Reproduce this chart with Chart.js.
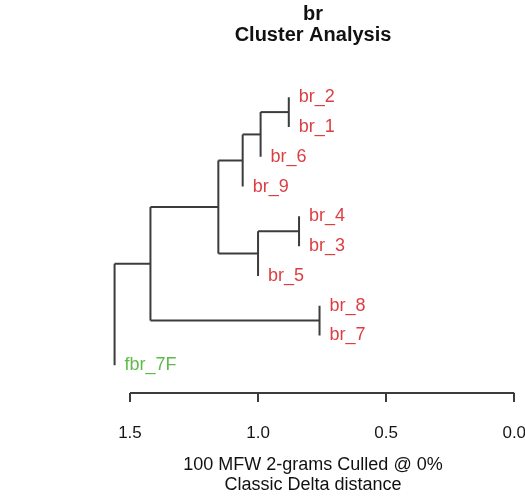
<!DOCTYPE html>
<html>
<head>
<meta charset="utf-8">
<script src="https://cdn.jsdelivr.net/npm/chart.js@4"></script>
<style>
  body { margin: 0; background: #fff; }
  #wrap { width: 525px; height: 503px; }
</style>
</head>
<body>
<div id="wrap"><canvas id="clusterChart"></canvas></div>
<script>
// leaves in display order, top to bottom
const leaves = ['br_2', 'br_1', 'br_6', 'br_9', 'br_4', 'br_3', 'br_5', 'br_8', 'br_7', 'fbr_7F'];
const leafGroups = ['br', 'br', 'br', 'br', 'br', 'br', 'br', 'br', 'br', 'fbr'];
// hclust style merges: negative = leaf (1-based), positive = earlier merge
const merges = [[-1, -2], [1, -3], [2, -4], [-5, -6], [4, -7], [3, 5], [-8, -9], [6, 7], [8, -10]];
const mergeHeights = [0.88, 0.99, 1.06, 0.84, 1.00, 1.155, 0.76, 1.42, 1.56];
const xTicks = [0.0, 0.5, 1.0, 1.5];

const groupColors = { br: '#dc3e42', fbr: '#5dbb4c' };
const lineColor = '#3c3c3c';

// build the dendrogram segments from the merges
const leafX = new Array(leaves.length);
const nodeX = [], nodeY = [];
const segments = [];
function childPos(c, h) {
  if (c < 0) {
    const i = -c - 1;
    leafX[i] = h;
    return { x: h, y: i + 1, node: false };
  }
  return { x: nodeX[c - 1], y: nodeY[c - 1], node: true };
}
merges.forEach((m, k) => {
  const h = mergeHeights[k];
  const a = childPos(m[0], h);
  const b = childPos(m[1], h);
  segments.push([{ x: h, y: a.y }, { x: h, y: b.y }]);
  [a, b].forEach(c => {
    if (c.node) segments.push([{ x: c.x, y: c.y }, { x: h, y: c.y }]);
  });
  nodeX.push(h);
  nodeY.push((a.y + b.y) / 2);
});

const datasets = segments.map(s => ({
  data: s,
  showLine: true,
  borderColor: lineColor,
  borderWidth: 2,
  pointRadius: 0,
  fill: false,
  clip: false
}));

const leafLabels = {
  id: 'leafLabels',
  afterDatasetsDraw(chart) {
    const { ctx, scales: { x, y } } = chart;
    ctx.save();
    ctx.font = '18px "Liberation Sans", Arial, sans-serif';
    ctx.textBaseline = 'middle';
    ctx.textAlign = 'left';
    leaves.forEach((name, i) => {
      ctx.fillStyle = groupColors[leafGroups[i]];
      ctx.fillText(name, x.getPixelForValue(leafX[i]) + 10, y.getPixelForValue(i + 1));
    });
    ctx.restore();
  }
};

const axisLine = {
  id: 'axisLine',
  afterDraw(chart) {
    const { ctx, chartArea, scales: { x } } = chart;
    ctx.save();
    ctx.strokeStyle = lineColor;
    ctx.lineWidth = 2;
    ctx.beginPath();
    ctx.moveTo(x.getPixelForValue(Math.max(...xTicks)), chartArea.bottom);
    ctx.lineTo(x.getPixelForValue(Math.min(...xTicks)), chartArea.bottom);
    ctx.stroke();
    ctx.restore();
  }
};

new Chart(document.getElementById('clusterChart'), {
  type: 'scatter',
  data: { datasets: datasets },
  options: {
    responsive: true,
    maintainAspectRatio: false,
    animation: false,
    layout: { padding: { left: 101, right: 0, top: 0, bottom: 0 } },
    plugins: {
      legend: { display: false },
      tooltip: { enabled: false },
      title: {
        display: true,
        text: ['br', 'Cluster Analysis'],
        color: '#111',
        font: { family: '"Liberation Sans", Arial, sans-serif', size: 20, weight: 'bold', lineHeight: 1.05 },
        padding: { top: 3.5, bottom: 10 }
      }
    },
    scales: {
      x: {
        type: 'linear',
        reverse: true,
        min: -0.042,
        max: 1.613,
        afterBuildTicks: axis => { axis.ticks = xTicks.map(v => ({ value: v })); },
        afterFit: axis => { axis.height = 110; },
        border: { display: false },
        grid: { drawOnChartArea: false, drawTicks: true, tickLength: 9, color: lineColor, lineWidth: 2 },
        ticks: {
          padding: 21,
          color: '#151515',
          maxRotation: 0,
          autoSkip: false,
          font: { family: '"Liberation Sans", Arial, sans-serif', size: 17 },
          callback: v => Number(v).toFixed(1)
        },
        title: {
          display: true,
          text: ['100 MFW 2-grams Culled @ 0%', 'Classic Delta distance'],
          color: '#111',
          font: { family: '"Liberation Sans", Arial, sans-serif', size: 18, lineHeight: 1.1 },
          padding: { top: 12, bottom: 8 }
        }
      },
      y: {
        type: 'linear',
        reverse: true,
        min: -0.4,
        max: 10.93,
        display: false
      }
    }
  },
  plugins: [leafLabels, axisLine]
});
</script>
</body>
</html>
